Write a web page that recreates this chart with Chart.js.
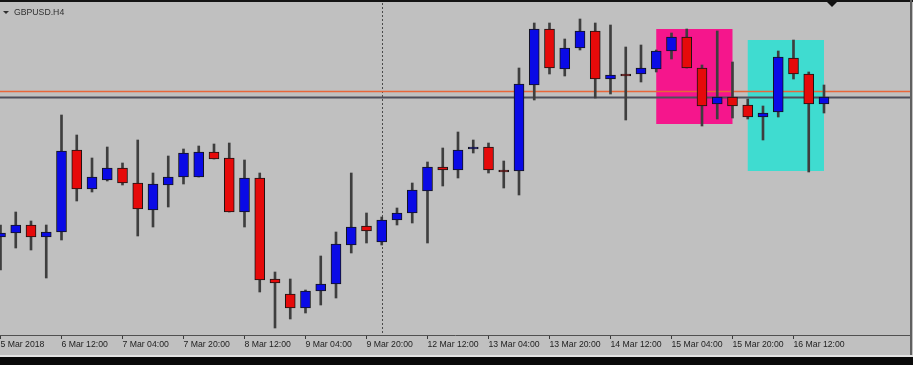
<!DOCTYPE html>
<html>
<head>
<meta charset="utf-8">
<script src="https://cdn.jsdelivr.net/npm/chart.js@4.4.0/dist/chart.umd.min.js"></script>
<style>
html, body { margin: 0; padding: 0; background: #c0c0c0; overflow: hidden; }
#box { width: 913px; height: 365px; position: relative; }
</style>
</head>
<body>
<div id="box"><canvas id="c"></canvas></div>
<script>
// GBPUSD H4 bars, 5 Mar - 16 Mar 2018
const open = [1.3806, 1.3810, 1.3818, 1.3806, 1.3811, 1.3893, 1.3854, 1.3863, 1.3875, 1.3860,
    1.3833, 1.3858, 1.3866, 1.3866, 1.3891, 1.3885, 1.3831, 1.3865, 1.3764, 1.3749,
    1.3735, 1.3752, 1.3759, 1.3798, 1.3817, 1.3801, 1.3823, 1.3830, 1.3852, 1.3876,
    1.3873, 1.3894, 1.3896, 1.3873, 1.3872, 1.3958, 1.4014, 1.3974, 1.3995, 1.4012,
    1.3964, 1.3969, 1.3969, 1.3974, 1.3992, 1.4006, 1.3975, 1.3939, 1.3946, 1.3938,
    1.3926, 1.3931, 1.3985, 1.3969, 1.3939]
const high = [1.3818, 1.3831, 1.3822, 1.3818, 1.3928, 1.3908, 1.3885, 1.3896, 1.3880, 1.3903,
    1.3870, 1.3887, 1.3894, 1.3897, 1.3899, 1.3900, 1.3883, 1.3870, 1.3771, 1.3764,
    1.3753, 1.3787, 1.3811, 1.3870, 1.3830, 1.3826, 1.3835, 1.3860, 1.3881, 1.3895,
    1.3911, 1.3903, 1.3900, 1.3882, 1.3975, 1.4020, 1.4020, 1.4004, 1.4024, 1.4020,
    1.4018, 1.3996, 1.3998, 1.3993, 1.4010, 1.4014, 1.3978, 1.4012, 1.3981, 1.3944,
    1.3937, 1.3992, 1.4003, 1.3971, 1.3958]
const low = [1.3773, 1.3795, 1.3793, 1.3765, 1.3803, 1.3842, 1.3851, 1.3862, 1.3858, 1.3807,
    1.3816, 1.3836, 1.3859, 1.3866, 1.3884, 1.3831, 1.3816, 1.3751, 1.3715, 1.3724,
    1.3730, 1.3738, 1.3745, 1.3790, 1.3800, 1.3798, 1.3818, 1.3820, 1.3800, 1.3857,
    1.3865, 1.3890, 1.3870, 1.3855, 1.3848, 1.3943, 1.3969, 1.3967, 1.3993, 1.3945,
    1.3949, 1.3923, 1.3961, 1.3971, 1.3984, 1.3975, 1.3917, 1.3924, 1.3925, 1.3924,
    1.3903, 1.3926, 1.3964, 1.3871, 1.3930]
const close = [1.3810, 1.3818, 1.3806, 1.3811, 1.3892, 1.3854, 1.3866, 1.3875, 1.3860, 1.3834,
    1.3859, 1.3866, 1.3890, 1.3891, 1.3884, 1.3831, 1.3865, 1.3763, 1.3760, 1.3735,
    1.3752, 1.3759, 1.3799, 1.3816, 1.3812, 1.3823, 1.3830, 1.3853, 1.3876, 1.3873,
    1.3893, 1.3896, 1.3873, 1.3871, 1.3959, 1.4014, 1.3975, 1.3995, 1.4012, 1.3964,
    1.3968, 1.3967, 1.3975, 1.3992, 1.4006, 1.3975, 1.3937, 1.3946, 1.3937, 1.3926,
    1.3930, 1.3986, 1.3969, 1.3939, 1.3946]

// time axis labels (bar index -> text)
const tickPos = [0, 4, 8, 12, 16, 20, 24, 28, 32, 36, 40, 44, 48, 52]
const tickText = ['5 Mar 2018', '6 Mar 12:00', '7 Mar 04:00', '7 Mar 20:00', '8 Mar 12:00',
    '9 Mar 04:00', '9 Mar 20:00', '12 Mar 12:00', '13 Mar 04:00', '13 Mar 20:00',
    '14 Mar 12:00', '15 Mar 04:00', '15 Mar 20:00', '16 Mar 12:00']

// objects on the chart
const hLevels = [1.39515, 1.39455]      // orange, dark
const weekSep = [25]                    // period separator (12 Mar 00:00)
const boxFrom = [43, 49]
const boxTo = [48, 54]
const boxTop = [1.4014, 1.4003]
const boxBottom = [1.3919, 1.3872]

const bg = '#c0c0c0'
const bull = '#0a0ae6'
const bear = '#e60a0a'
const lineColors = ['#e8663a', '#4e4e5a']
const boxColors = ['#f5168c', '#3fdcd0']

let wicks = []
let bodies = []
let bodyColors = []
for (let i = 0; i < open.length; i++) {
    wicks.push({ x: i, y: [low[i], high[i]] })
    bodies.push({ x: i, y: [open[i], close[i]] })
    bodyColors.push(close[i] >= open[i] ? bull : bear)
}

//画背景、矩形、水平线、分隔线、标题
const mt4Plugin = {
    id: 'mt4',
    beforeDraw(chart) {
        const ctx = chart.ctx
        ctx.save()
        ctx.fillStyle = bg
        ctx.fillRect(0, 0, chart.width, chart.height)
        ctx.restore()
    },
    beforeDatasetsDraw(chart) {
        const ctx = chart.ctx
        const a = chart.chartArea
        const xs = chart.scales.x
        const ys = chart.scales.y
        ctx.save()
        ctx.beginPath()
        ctx.rect(a.left, a.top, a.right - a.left, a.bottom - a.top)
        ctx.clip()
        // rectangles
        for (let k = 0; k < boxFrom.length; k++) {
            const x1 = xs.getPixelForValue(boxFrom[k])
            const x2 = xs.getPixelForValue(boxTo[k])
            const y1 = ys.getPixelForValue(boxTop[k])
            const y2 = ys.getPixelForValue(boxBottom[k])
            ctx.fillStyle = boxColors[k]
            ctx.fillRect(x1, y1, x2 - x1, y2 - y1)
        }
        // week separator
        ctx.strokeStyle = '#4a4a4a'
        ctx.lineWidth = 1
        ctx.setLineDash([2, 2])
        for (let s of weekSep) {
            const x = Math.round(xs.getPixelForValue(s)) + 0.5
            ctx.beginPath()
            ctx.moveTo(x, a.top)
            ctx.lineTo(x, a.bottom)
            ctx.stroke()
        }
        ctx.setLineDash([])
        // horizontal levels
        for (let k = 0; k < hLevels.length; k++) {
            const y = ys.getPixelForValue(hLevels[k])
            ctx.strokeStyle = lineColors[k]
            ctx.lineWidth = k === 0 ? 1.5 : 2
            ctx.beginPath()
            ctx.moveTo(a.left, y)
            ctx.lineTo(a.right, y)
            ctx.stroke()
        }
        ctx.restore()
    },
    afterDraw(chart) {
        const ctx = chart.ctx
        const a = chart.chartArea
        ctx.save()
        // frame
        ctx.fillStyle = '#141414'
        ctx.fillRect(0, 0, chart.width, 2)
        ctx.fillStyle = '#606060'
        ctx.fillRect(a.right, 0, 2, 355)
        ctx.fillStyle = '#e2e2e2'
        ctx.fillRect(0, 355, chart.width, 2)
        ctx.fillStyle = '#0a0a0a'
        ctx.fillRect(0, 357, chart.width, chart.height - 357)
        // chart shift marker
        ctx.fillStyle = '#111'
        ctx.beginPath()
        ctx.moveTo(827, 2)
        ctx.lineTo(837, 2)
        ctx.lineTo(832, 7)
        ctx.closePath()
        ctx.fill()
        // symbol title
        ctx.fillStyle = '#303030'
        ctx.beginPath()
        ctx.moveTo(3, 11)
        ctx.lineTo(9, 11)
        ctx.lineTo(6, 14)
        ctx.closePath()
        ctx.fill()
        ctx.font = '8.7px "Liberation Sans"'
        ctx.textBaseline = 'middle'
        ctx.fillText('GBPUSD.H4', 14, 12.5)
        ctx.restore()
    }
}

const config = {
    type: 'bar',
    data: {
        datasets: [
            {
                label: 'body',
                data: bodies,
                backgroundColor: bodyColors,
                borderColor: '#141414',
                borderWidth: 1,
                borderSkipped: false,
                barThickness: 10,
                grouped: false,
                order: 1
            },
            {
                label: 'wick',
                data: wicks,
                backgroundColor: '#3e3e3e',
                borderWidth: 0,
                barThickness: 2,
                grouped: false,
                order: 2
            }
        ]
    },
    options: {
        animation: false,
        responsive: true,
        maintainAspectRatio: false,
        events: [],
        layout: { padding: { top: 3, right: 3, left: 0, bottom: 0 } },
        plugins: {
            legend: { display: false },
            tooltip: { enabled: false }
        },
        scales: {
            x: {
                type: 'linear',
                min: -0.033,
                max: 59.64,
                offset: false,
                bounds: 'data',
                afterBuildTicks: (scale) => {
                    scale.ticks = tickPos.map(v => ({ value: v }))
                },
                afterFit: (scale) => { scale.height = 30 },
                grid: {
                    offset: false,
                    drawOnChartArea: false,
                    drawTicks: true,
                    tickLength: 4,
                    color: '#3a3a3a'
                },
                border: { display: true, color: '#505050', width: 1 },
                ticks: {
                    autoSkip: false,
                    maxRotation: 0,
                    minRotation: 0,
                    align: 'start',
                    padding: 0,
                    color: '#222',
                    font: { family: 'Liberation Sans', size: 8.7 },
                    callback: (value, index) => tickText[index]
                }
            },
            y: {
                display: false,
                min: 1.3708,
                max: 1.4040
            }
        }
    },
    plugins: [mt4Plugin]
}

let myChart = new Chart(document.getElementById('c'), config)
</script>
</body>
</html>
